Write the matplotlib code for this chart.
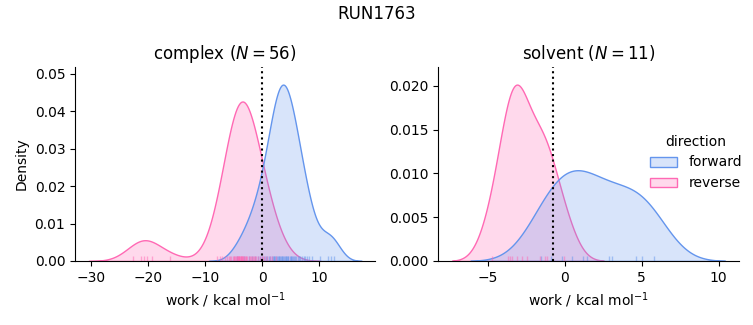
import matplotlib
matplotlib.use("Agg")
import matplotlib.pyplot as plt
import pandas as pd
import seaborn as sns

# work values (kcal/mol)
complex_forward = [
    -4.5, -3.2, -2.4, -1.8, -1.2, -0.8, -0.4, 0.0, 0.3, 0.6,
    0.9, 1.2, 1.4, 1.7, 1.9, 2.0, 2.1, 2.3, 2.5, 2.6, 2.7, 2.9,
    3.0, 3.1, 3.3, 3.4, 3.5, 3.6, 3.8, 4.0, 4.1, 4.3, 4.5, 4.6,
    4.8, 5.0, 5.1, 5.2, 5.4, 5.6, 5.8, 6.0, 6.2, 6.4, 6.7,
    7.0, 7.3, 7.6, 7.9, 8.3, 8.8, 4.2, 10.2, 11.6, 12.1, 12.6,
]
complex_reverse = [
    -22.7, -21.2, -20.7, -20.3, -19.4, -16.2, -8.0, -7.4,
    -7.1, -6.6, -6.2, -5.9, -5.6, -5.4, -5.2, -5.0, -4.9, -4.7,
    -4.6, -4.5, -4.4, -4.3, -4.2, -4.1, -4.0, -3.9, -3.8, -3.7,
    -3.6, -3.5, -3.4, -3.3, -3.2, -3.0, -2.8, -2.6, -2.4, -2.2,
    -2.0, -1.8, -1.6, -1.3, -1.0, -0.7, -0.4, -0.1, 0.2, 0.5,
    0.9, 1.3, 1.8, 2.5, -3.65, -4.05, -2.9, -1.5,
]
solvent_forward = [-1.55, -0.9, -0.17, 0.48, 1.18, 1.42, 2.88, 3.09, 4.62, 4.99, 5.82]
solvent_reverse = [-4.77, -3.73, -3.6, -3.44, -3.1, -2.79, -2.5, -1.6, -1.3, -1.15, -0.05]

# free energy estimates (dotted lines)
dg = {"complex": 0.0, "solvent": -0.78}

rows = []
for phase, direction, values in [
    ("complex", "forward", complex_forward),
    ("complex", "reverse", complex_reverse),
    ("solvent", "forward", solvent_forward),
    ("solvent", "reverse", solvent_reverse),
]:
    for v in values:
        rows.append({"phase": phase, "direction": direction, "work": v})
df = pd.DataFrame(rows)

palette = {"forward": "cornflowerblue", "reverse": "hotpink"}

g = sns.displot(
    data=df, x="work", hue="direction", col="phase", kind="kde",
    fill=True, rug=True, palette=palette,
    hue_order=["forward", "reverse"], col_order=["complex", "solvent"],
    facet_kws=dict(sharex=False, sharey=False),
    rug_kws=dict(alpha=0.5),
)

fig = g.figure
fig.set_size_inches(7.53, 3.25)
fig.subplots_adjust(left=0.0996, right=0.981, bottom=0.197, top=0.794, wspace=0.21)

for ax, phase in zip(g.axes.flat, ["complex", "solvent"]):
    n = (df["phase"] == phase).sum() // 2
    ax.set_title(f"{phase} ($N={n}$)", fontsize=12)
    ax.axvline(dg[phase], color="k", ls=":", lw=1.5)
    ax.set_xlabel("work / kcal mol$^{-1}$")

g.axes.flat[0].set_ylabel("Density")
fig.suptitle("RUN1763", fontsize=12, y=0.985)

sns.move_legend(g, "center left", bbox_to_anchor=(0.846, 0.5), frameon=False)

fig.savefig("out.png", dpi=100)
